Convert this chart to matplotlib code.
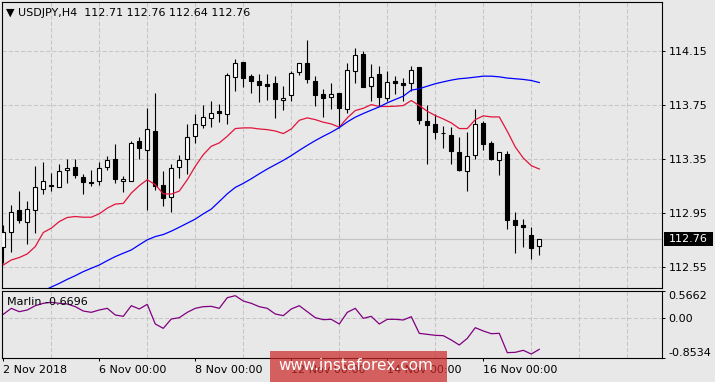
import numpy as np
import matplotlib
matplotlib.use("Agg")
import matplotlib.pyplot as plt
import matplotlib.transforms as mtransforms
from matplotlib.patches import Rectangle

# USDJPY H4 candles, 2 Nov 2018 .. 16 Nov 2018
opens = [112.698, 112.809, 112.972, 112.888, 112.972, 113.128, 113.160, 113.143, 113.269, 113.293,
         113.219, 113.182, 113.187, 113.291, 113.353, 113.187, 113.187, 113.486, 113.417, 113.560,
         113.160, 113.069, 113.291, 113.348, 113.518, 113.602, 113.654, 113.703, 113.681, 113.957,
         114.068, 113.960, 113.923, 113.901, 113.915, 113.787, 113.824, 113.992, 114.056, 113.928,
         113.831, 113.809, 113.841, 113.720, 114.002, 114.123, 113.888, 113.975, 113.802, 113.930,
         113.915, 113.913, 114.027, 113.634, 113.609, 113.543, 113.528, 113.402, 113.261, 113.377,
         113.617, 113.469, 113.343, 113.390, 112.901, 112.861, 112.790, 112.71]
highs = [112.864, 113.012, 113.113, 113.039, 113.301, 113.328, 113.246, 113.313, 113.353, 113.353,
         113.241, 113.271, 113.328, 113.372, 113.464, 113.222, 113.486, 113.515, 113.730, 113.834,
         113.264, 113.313, 113.380, 113.609, 113.686, 113.752, 113.777, 113.760, 113.987, 114.091,
         114.068, 113.975, 113.975, 113.975, 113.960, 113.893, 114.002, 114.061, 114.227, 113.960,
         113.869, 113.915, 113.841, 114.059, 114.167, 114.150, 114.051, 114.036, 114.002, 113.962,
         113.948, 114.036, 114.027, 113.752, 113.686, 113.592, 113.585, 113.515, 113.553, 113.723,
         113.631, 113.486, 113.402, 113.412, 112.960, 112.908, 112.849, 112.76]
lows = [112.580, 112.666, 112.876, 112.725, 112.802, 113.088, 113.116, 113.140, 113.170, 113.207,
        113.088, 113.148, 113.155, 113.266, 113.170, 113.108, 113.187, 113.348, 112.975, 113.118,
        113.000, 112.955, 113.207, 113.236, 113.466, 113.577, 113.585, 113.627, 113.609, 113.849,
        113.881, 113.836, 113.770, 113.787, 113.651, 113.710, 113.782, 113.970, 113.913, 113.740,
        113.664, 113.723, 113.577, 113.691, 113.913, 113.881, 113.780, 113.740, 113.775, 113.831,
        113.780, 113.854, 113.607, 113.311, 113.496, 113.434, 113.311, 113.259, 113.111, 113.348,
        113.414, 113.340, 113.229, 112.836, 112.659, 112.703, 112.614, 112.64]
closes = [112.814, 112.955, 112.896, 112.980, 113.143, 113.187, 113.148, 113.261, 113.286, 113.232,
          113.177, 113.170, 113.283, 113.343, 113.199, 113.202, 113.469, 113.429, 113.575, 113.148,
          113.059, 113.286, 113.343, 113.515, 113.609, 113.661, 113.691, 113.691, 113.972, 114.061,
          113.948, 113.925, 113.898, 113.888, 113.797, 113.802, 113.982, 114.061, 113.943, 113.822,
          113.799, 113.831, 113.725, 114.007, 114.115, 113.881, 113.957, 113.807, 113.920, 113.915,
          113.898, 114.009, 113.636, 113.599, 113.550, 113.540, 113.409, 113.266, 113.372, 113.609,
          113.459, 113.348, 113.402, 112.903, 112.866, 112.844, 112.696, 112.76]

ma_fast = [112.567, 112.604, 112.622, 112.649, 112.703, 112.807, 112.839, 112.888, 112.918, 112.925,
           112.920, 112.920, 112.945, 112.987, 113.017, 113.022, 113.098, 113.153, 113.197, 113.160,
           113.093, 113.091, 113.113, 113.197, 113.296, 113.382, 113.444, 113.469, 113.518, 113.575,
           113.580, 113.580, 113.572, 113.567, 113.557, 113.538, 113.572, 113.636, 113.654, 113.641,
           113.622, 113.609, 113.585, 113.654, 113.708, 113.725, 113.752, 113.738, 113.738, 113.740,
           113.745, 113.782, 113.745, 113.703, 113.671, 113.646, 113.617, 113.575, 113.575, 113.641,
           113.669, 113.661, 113.661, 113.555, 113.439, 113.357, 113.301, 113.276]
ma_slow = [np.nan, np.nan, np.nan, np.nan, np.nan, 112.375, 112.404, 112.431, 112.461, 112.488,
           112.518, 112.543, 112.567, 112.599, 112.629, 112.654, 112.678, 112.716, 112.753, 112.777,
           112.792, 112.817, 112.846, 112.876, 112.906, 112.945, 112.980, 113.036, 113.093, 113.140,
           113.170, 113.204, 113.241, 113.276, 113.308, 113.340, 113.375, 113.414, 113.451, 113.486,
           113.518, 113.548, 113.582, 113.624, 113.659, 113.686, 113.711, 113.735, 113.765, 113.790,
           113.814, 113.859, 113.869, 113.888, 113.906, 113.920, 113.933, 113.943, 113.948, 113.955,
           113.962, 113.962, 113.957, 113.948, 113.943, 113.938, 113.930, 113.915]
marlin = [0.072, 0.199, 0.128, 0.164, 0.255, 0.305, 0.326, 0.305, 0.291, 0.234,
          0.142, 0.114, 0.164, 0.199, 0.058, 0.029, 0.255, 0.185, 0.284, -0.133,
          -0.225, -0.027, 0.001, 0.114, 0.199, 0.234, 0.241, 0.199, 0.425, 0.467,
          0.354, 0.305, 0.234, 0.199, 0.079, 0.044, 0.185, 0.255, 0.128, 0.001,
          -0.041, -0.034, -0.133, 0.114, 0.199, -0.013, 0.029, -0.133, -0.034, -0.034,
          -0.048, 0.022, -0.331, -0.352, -0.373, -0.380, -0.472, -0.578, -0.437, -0.211,
          -0.281, -0.338, -0.331, -0.740, -0.733, -0.691, -0.769, -0.6696]

price_ticks = [112.55, 112.95, 113.35, 113.75, 114.15]
ind_ticks = [0.5662, 0.0, -0.8534]
ind_labels = ["0.5662", "0.00", "-0.8534"]
time_pos = [0, 12, 24, 36, 48, 60]
time_labels = ["2 Nov 2018", "6 Nov 00:00", "8 Nov 00:00", "12 Nov 00:00",
               "14 Nov 00:00", "16 Nov 00:00"]
grid_pos = np.arange(6, 83, 6)

BG = "#e8e8e8"
GRID = "#c6c6c6"
W, H = 715, 382

fig = plt.figure(figsize=(W / 100, H / 100), dpi=100, facecolor=BG)
ax = fig.add_axes([2 / W, 1 - 288 / H, 660 / W, 286 / H], facecolor=BG)
ax2 = fig.add_axes([2 / W, 1 - 358 / H, 660 / W, 67 / H], facecolor=BG)

x = np.arange(len(opens))
o = np.array(opens)
c = np.array(closes)

# candles
ax.vlines(x, lows, highs, color="black", lw=0.8, zorder=3)
bull = c >= o
body_bottom = np.minimum(o, c)
body_height = np.abs(c - o)
ax.bar(x, body_height, 0.55, bottom=body_bottom,
       color=np.where(bull, "white", "black"), edgecolor="black", linewidth=0.8, zorder=4)

ax.plot(x, ma_fast, color="#e0143c", lw=0.9, zorder=5)
ax.plot(x, ma_slow, color="#0000ff", lw=0.9, zorder=5)
ax.axhline(closes[-1], color="#c4c4c4", lw=0.9, zorder=1)

for a in (ax, ax2):
    a.set_xlim(-0.16, 82.34)
    a.set_xticks(grid_pos, minor=True)
    a.grid(axis="x", which="minor", color=GRID, ls=(0, (4, 2)), lw=0.75)
    for s in a.spines.values():
        s.set_color("black")
        s.set_linewidth(0.8)
    a.yaxis.tick_right()
    a.tick_params(axis="y", length=2.2, width=0.7, pad=2.6, labelsize=8, colors="black")
    a.tick_params(axis="x", which="minor", length=0)

ax.set_ylim(112.397, 114.51)
ax.set_yticks(price_ticks)
ax.set_yticklabels([f"{t:.2f}" for t in price_ticks])
ax.grid(axis="y", color=GRID, ls=(0, (4, 2)), lw=0.75)
ax.set_xticks([])

# last price marker
blend = mtransforms.blended_transform_factory(ax.transAxes, ax.transData)
ax.add_patch(Rectangle((1.003, closes[-1] - 0.052), 0.0745, 0.104, transform=blend,
                       facecolor="black", edgecolor="none", clip_on=False, zorder=6))
ax.annotate(f"{closes[-1]:.2f}", xy=(1, closes[-1]), xycoords=blend,
            xytext=(5.1, 0), textcoords="offset points", ha="left", va="center",
            color="white", fontsize=8, zorder=7, annotation_clip=False)

# indicator panel
ax2.plot(x, marlin, color="#800080", lw=0.9)
ax2.set_ylim(-0.8534, 0.5662)
ax2.set_yticks(ind_ticks)
ax2.set_yticklabels(ind_labels)
ax2.grid(axis="y", color=GRID, ls=(0, (4, 2)), lw=0.75)
labs = ax2.get_yticklabels()
labs[0].set_va("top")
labs[2].set_va("bottom")
ax2.set_xticks(time_pos)
ax2.set_xticklabels(time_labels)
ax2.tick_params(axis="x", which="major", length=2.2, width=0.7, pad=2.5, labelsize=8)
for lbl in ax2.get_xticklabels():
    lbl.set_ha("left")

fig.text(6 / W, 1 - 13 / H, "\u25bc USDJPY,H4  112.71 112.76 112.64 112.76",
         fontsize=8, va="center", color="black")
fig.text(7 / W, 1 - 302 / H, "Marlin -0.6696", fontsize=8, va="center", color="black")

# watermark
fig.patches.append(Rectangle((270 / W, 0), 177 / W, 31 / H, transform=fig.transFigure,
                             facecolor="#cc2a2a", alpha=0.72, edgecolor="none", zorder=10))
fig.text(356 / W, 1 - 366 / H, "www.instaforex.com", color="white", fontsize=11,
         ha="center", va="center", zorder=11)

fig.savefig("out.png", dpi=100, facecolor=BG)
